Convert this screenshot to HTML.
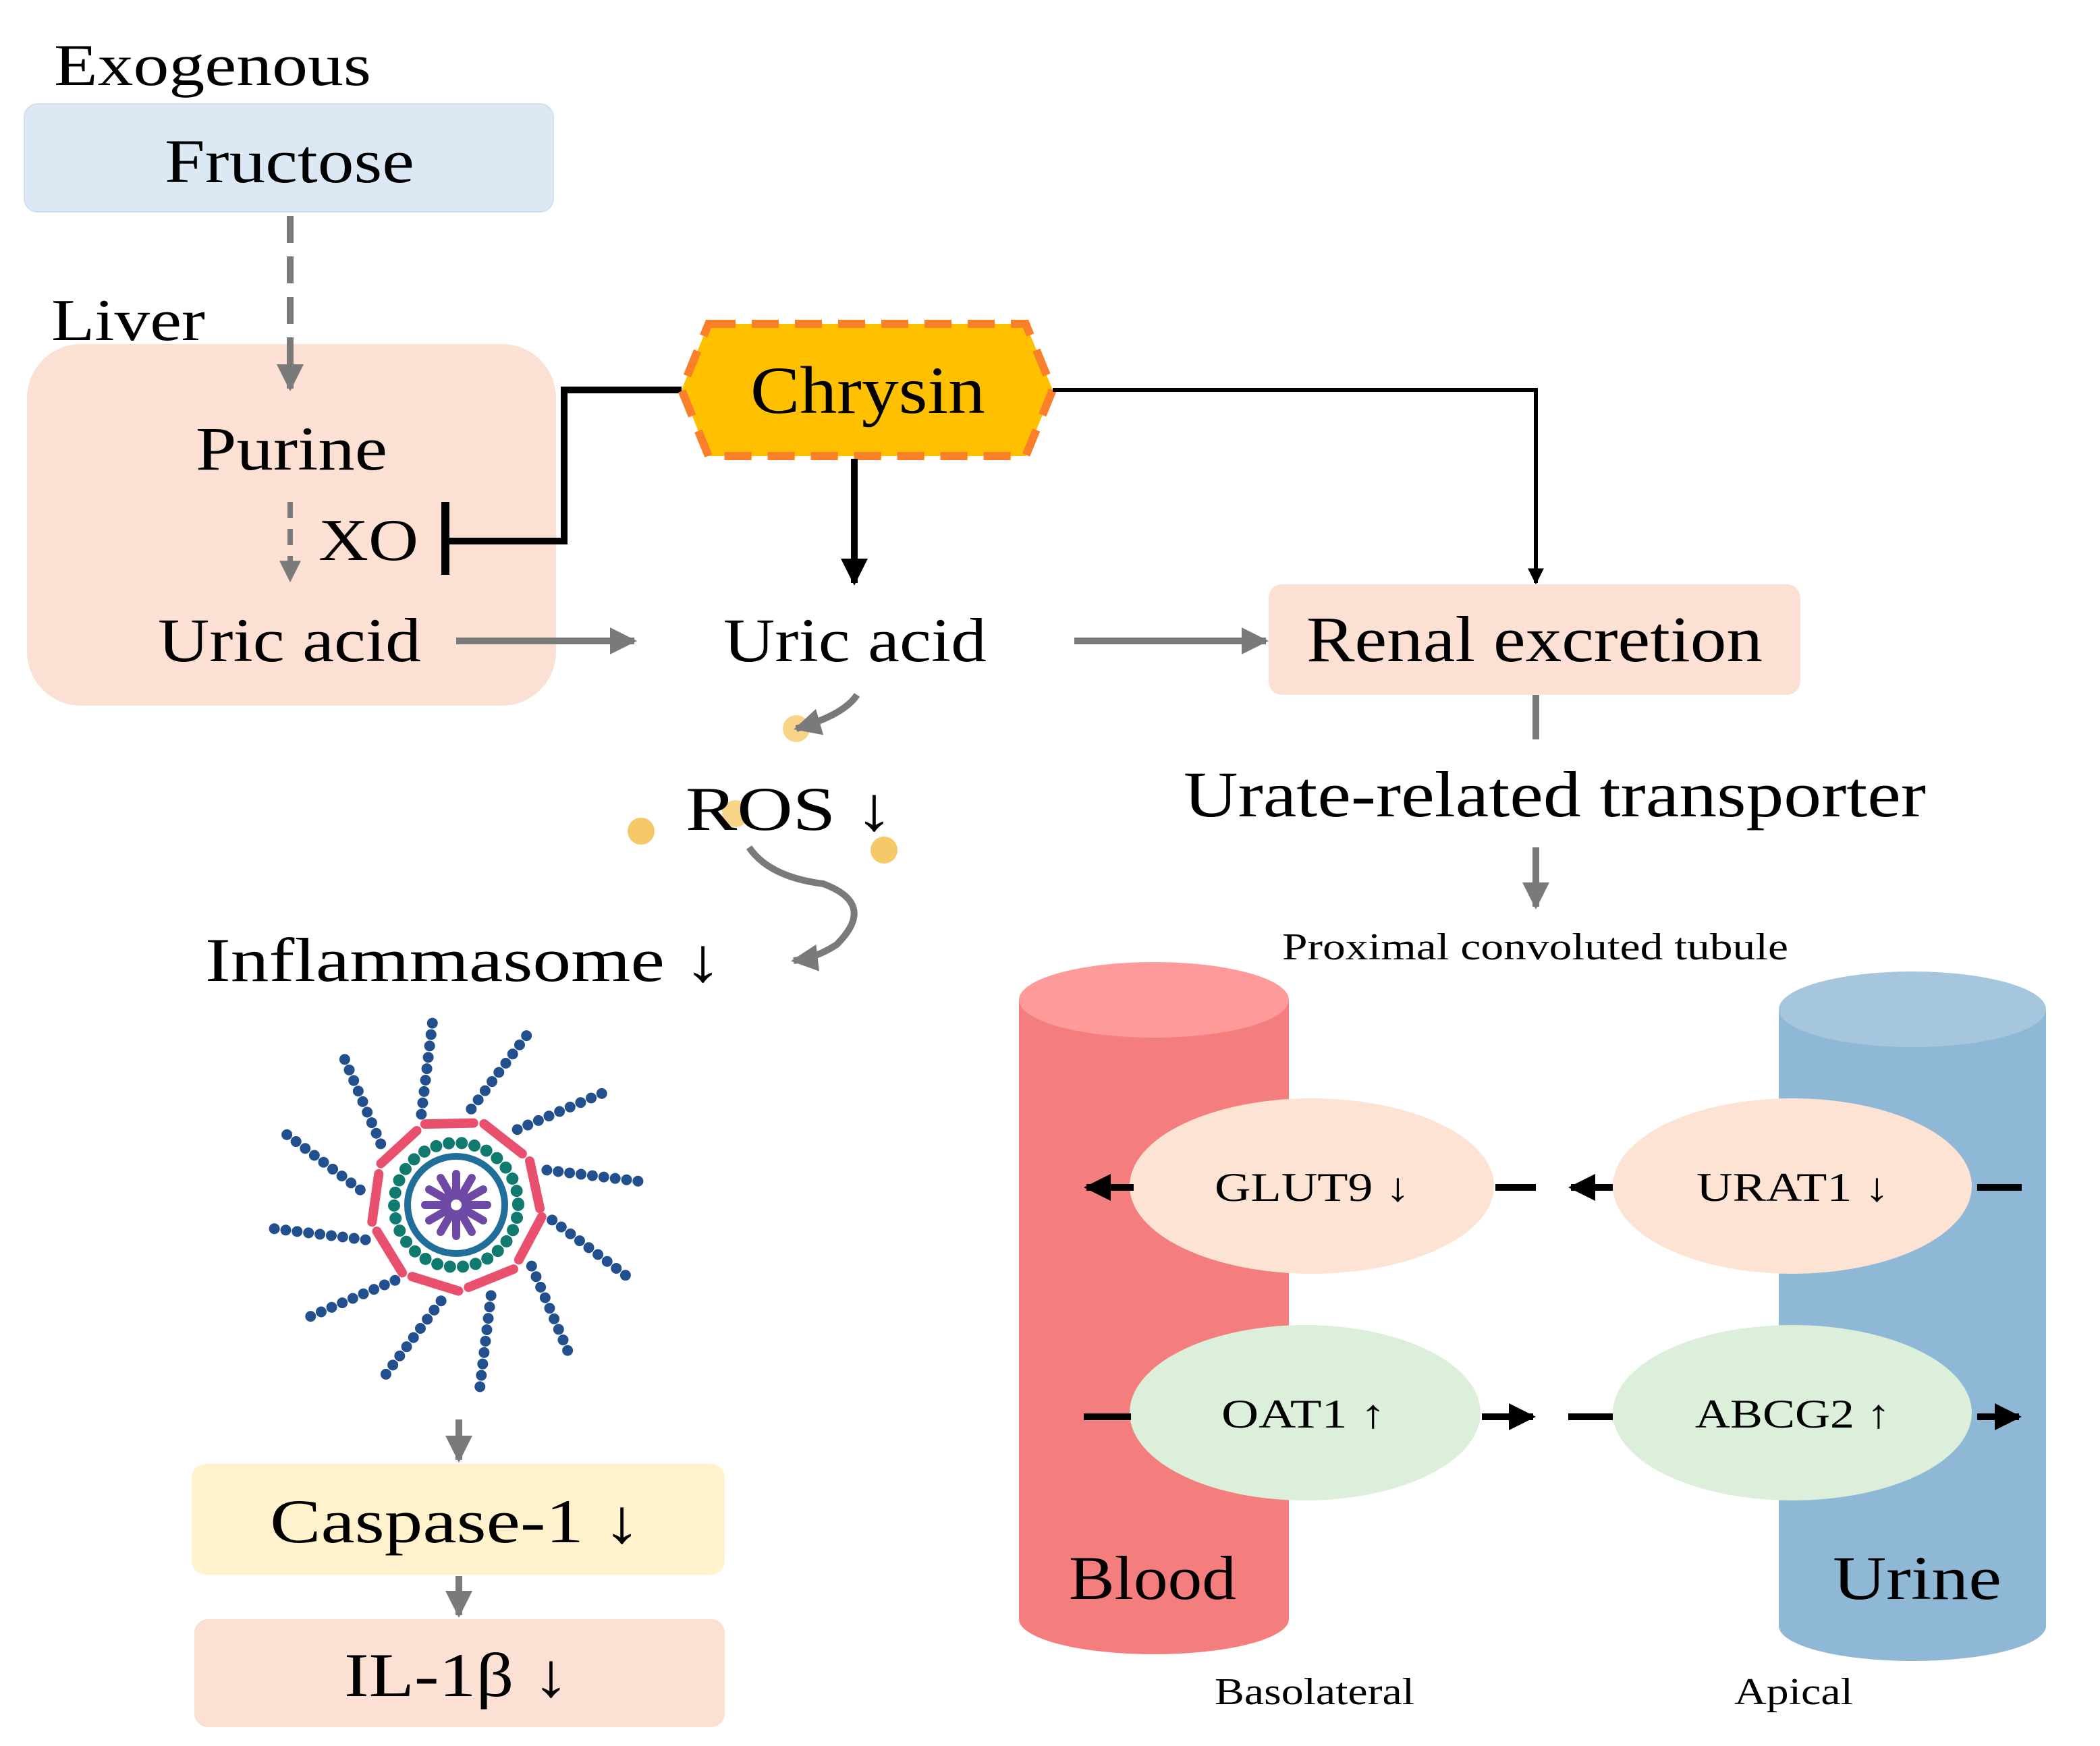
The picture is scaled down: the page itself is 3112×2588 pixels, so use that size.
<!DOCTYPE html>
<html><head><meta charset="utf-8"><style>
html,body{margin:0;padding:0;background:#fff}
svg{display:block}
text{font-family:"Liberation Serif","DejaVu Serif",serif;fill:#000}
</style></head><body>
<svg width="3112" height="2588" viewBox="0 0 1556 1294" xmlns="http://www.w3.org/2000/svg">
<defs>
<marker id="ag" viewBox="0 0 10 10" refX="9" refY="5" markerWidth="4" markerHeight="4" orient="auto"><path d="M0,0L10,5L0,10z" fill="#7a7a7a"/></marker>
<marker id="ab" viewBox="0 0 10 10" refX="9" refY="5" markerWidth="4" markerHeight="4" orient="auto"><path d="M0,0L10,5L0,10z" fill="#000"/></marker>
</defs>
<rect width="1556" height="1294" fill="#fff"/>
<text x="40" y="63" font-size="44" textLength="235" lengthAdjust="spacingAndGlyphs">Exogenous</text>
<rect x="18" y="77" width="392" height="80" rx="10" fill="#dce9f5" stroke="#cfe0f0"/>
<text x="122" y="135" font-size="46" textLength="185" lengthAdjust="spacingAndGlyphs">Fructose</text>
<text x="38" y="252" font-size="44" textLength="114" lengthAdjust="spacingAndGlyphs">Liver</text>
<rect x="20" y="255" width="392" height="268" rx="40" fill="#fbe0d3"/>
<line x1="215" y1="160" x2="215" y2="288" stroke="#7a7a7a" stroke-width="5" stroke-dasharray="20 10" marker-end="url(#ag)"/>
<text x="145" y="348" font-size="46" textLength="142" lengthAdjust="spacingAndGlyphs">Purine</text>
<line x1="215" y1="372" x2="215" y2="430" stroke="#7a7a7a" stroke-width="4" stroke-dasharray="12 8" marker-end="url(#ag)"/>
<text x="236" y="415" font-size="44" textLength="74" lengthAdjust="spacingAndGlyphs">XO</text>
<polyline points="505,289 418,289 418,401 330,401" fill="none" stroke="#000" stroke-width="5"/>
<line x1="330" y1="372" x2="330" y2="426" stroke="#000" stroke-width="6"/>
<text x="117" y="490" font-size="46" textLength="195" lengthAdjust="spacingAndGlyphs">Uric acid</text>
<line x1="338" y1="475" x2="470" y2="475" stroke="#7a7a7a" stroke-width="5" marker-end="url(#ag)"/>
<polygon points="525,240 760,240 780,289 760,338 525,338 505,289" fill="#ffc000" stroke="#f97f2a" stroke-width="6" stroke-dasharray="20 12"/>
<text x="556" y="306" font-size="50" textLength="174" lengthAdjust="spacingAndGlyphs">Chrysin</text>
<line x1="633" y1="340" x2="633" y2="432" stroke="#000" stroke-width="5" marker-end="url(#ab)"/>
<polyline points="780,289 1138,289 1138,432" fill="none" stroke="#000" stroke-width="3" marker-end="url(#ab)"/>
<text x="536" y="490" font-size="46" textLength="195" lengthAdjust="spacingAndGlyphs">Uric acid</text>
<line x1="796" y1="475" x2="938" y2="475" stroke="#7a7a7a" stroke-width="5" marker-end="url(#ag)"/>
<rect x="940" y="433" width="394" height="82" rx="10" fill="#fbe0d3"/>
<text x="968" y="490" font-size="48" textLength="338" lengthAdjust="spacingAndGlyphs">Renal excretion</text>
<line x1="1138" y1="515" x2="1138" y2="548" stroke="#7a7a7a" stroke-width="5"/>
<text x="877" y="605" font-size="48" textLength="550" lengthAdjust="spacingAndGlyphs">Urate-related transporter</text>
<line x1="1138" y1="628" x2="1138" y2="672" stroke="#7a7a7a" stroke-width="5" marker-end="url(#ag)"/>
<text x="950" y="711" font-size="28" textLength="375" lengthAdjust="spacingAndGlyphs">Proximal convoluted tubule</text>
<!-- ROS -->
<circle cx="590" cy="540" r="10" fill="#f5c96a" opacity="0.8"/>
<circle cx="475" cy="616" r="10" fill="#f5c96a"/>
<circle cx="545" cy="603" r="10" fill="#f5c96a" opacity="0.8"/>
<circle cx="655" cy="630" r="10" fill="#f5c96a"/>
<path d="M635,515 Q625,530 590,540" fill="none" stroke="#7a7a7a" stroke-width="5" marker-end="url(#ag)"/>
<text x="508" y="615" font-size="46" textLength="154" lengthAdjust="spacingAndGlyphs">ROS ↓</text>
<path d="M555,628 Q570,650 610,655 Q650,670 620,700 Q605,710 588,712" fill="none" stroke="#7a7a7a" stroke-width="5" marker-end="url(#ag)"/>
<text x="152" y="727" font-size="46" textLength="383" lengthAdjust="spacingAndGlyphs">Inflammasome ↓</text>
<!-- inflammasome -->
<g stroke="#22508f" stroke-width="8" stroke-linecap="round" stroke-dasharray="0 8.5">
<line x1="312.2" y1="825.8" x2="320.9" y2="754"/>
<line x1="349.2" y1="821.9" x2="392.7" y2="764.1"/>
<line x1="383.3" y1="837.1" x2="449.9" y2="808.7"/>
<line x1="405.2" y1="867.2" x2="477" y2="875.9"/>
<line x1="409.1" y1="904.2" x2="466.9" y2="947.7"/>
<line x1="393.9" y1="938.3" x2="422.3" y2="1004.9"/>
<line x1="363.8" y1="960.2" x2="355.1" y2="1032"/>
<line x1="326.8" y1="964.1" x2="283.3" y2="1022"/>
<line x1="292.7" y1="948.9" x2="226.1" y2="977.3"/>
<line x1="270.8" y1="918.8" x2="199" y2="910.1"/>
<line x1="266.9" y1="881.8" x2="209.1" y2="838.3"/>
<line x1="282.1" y1="847.7" x2="253.7" y2="781.1"/>
</g>
<polygon points="402,893 387,934 349,956 306,949 278,915 278,871 306,837 349,830 387,852" fill="none" stroke="#e8506e" stroke-width="7" stroke-linecap="round" stroke-dasharray="36 8" transform="rotate(8 338 893)"/>
<circle cx="338" cy="893" r="46" fill="none" stroke="#107a6e" stroke-width="9" stroke-linecap="round" stroke-dasharray="0 9.6"/>
<circle cx="338" cy="893" r="36" fill="none" stroke="#1f6f9a" stroke-width="5"/>
<g stroke="#6e4aa6" stroke-width="6" stroke-linecap="round">
<line x1="338" y1="870" x2="338" y2="916"/>
<line x1="315" y1="893" x2="361" y2="893"/>
<line x1="326.5" y1="873" x2="349.5" y2="913"/>
<line x1="349.5" y1="873" x2="326.5" y2="913"/>
<line x1="318" y1="881.5" x2="358" y2="904.5"/>
<line x1="358" y1="881.5" x2="318" y2="904.5"/>
</g>
<circle cx="338" cy="893" r="4" fill="#fff"/>
<line x1="340" y1="1052" x2="340" y2="1082" stroke="#7a7a7a" stroke-width="5" stroke-dasharray="12 6" marker-end="url(#ag)"/>
<rect x="142" y="1085" width="395" height="82" rx="10" fill="#fff2cc"/>
<text x="200" y="1143" font-size="46" textLength="275" lengthAdjust="spacingAndGlyphs">Caspase-1 ↓</text>
<line x1="340" y1="1168" x2="340" y2="1197" stroke="#7a7a7a" stroke-width="5" marker-end="url(#ag)"/>
<rect x="144" y="1200" width="393" height="80" rx="10" fill="#fbe0d3"/>
<text x="255" y="1257" font-size="46" textLength="167" lengthAdjust="spacingAndGlyphs">IL-1β ↓</text>
<!-- cylinders -->
<path d="M755,741 L755,1200 A100,26 0 0 0 955,1200 L955,741 Z" fill="#f47e7d"/>
<ellipse cx="855" cy="741" rx="100" ry="28" fill="#fe9a99"/>
<path d="M1318,748 L1318,1205 A99,26 0 0 0 1516,1205 L1516,748 Z" fill="#8fb8d6"/>
<ellipse cx="1417" cy="748" rx="99" ry="28" fill="#a6c6de"/>
<text x="792" y="1185" font-size="46" textLength="124" lengthAdjust="spacingAndGlyphs">Blood</text>
<text x="1358" y="1185" font-size="46" textLength="125" lengthAdjust="spacingAndGlyphs">Urine</text>
<ellipse cx="972" cy="879" rx="135" ry="65" fill="#fde3d4"/>
<ellipse cx="1328" cy="879" rx="133" ry="65" fill="#fde3d4"/>
<ellipse cx="967" cy="1047" rx="130" ry="65" fill="#dcefdb"/>
<ellipse cx="1328" cy="1047" rx="133" ry="65" fill="#dcefdb"/>
<text x="900" y="890" font-size="30" textLength="145" lengthAdjust="spacingAndGlyphs">GLUT9 ↓</text>
<text x="1257" y="890" font-size="30" textLength="143" lengthAdjust="spacingAndGlyphs">URAT1 ↓</text>
<text x="905" y="1058" font-size="30" textLength="122" lengthAdjust="spacingAndGlyphs">OAT1 ↑</text>
<text x="1256" y="1058" font-size="30" textLength="145" lengthAdjust="spacingAndGlyphs">ABCG2 ↑</text>
<g stroke="#000" stroke-width="5">
<line x1="840" y1="880" x2="805" y2="880" marker-end="url(#ab)"/>
<line x1="1108" y1="880" x2="1138" y2="880"/>
<line x1="1195" y1="880" x2="1164" y2="880" marker-end="url(#ab)"/>
<line x1="1465" y1="880" x2="1498" y2="880"/>
<line x1="803" y1="1050" x2="838" y2="1050"/>
<line x1="1098" y1="1050" x2="1136" y2="1050" marker-end="url(#ab)"/>
<line x1="1162" y1="1050" x2="1195" y2="1050"/>
<line x1="1465" y1="1050" x2="1496" y2="1050" marker-end="url(#ab)"/>
</g>
<text x="900" y="1263" font-size="28" textLength="148" lengthAdjust="spacingAndGlyphs">Basolateral</text>
<text x="1285" y="1263" font-size="28" textLength="88" lengthAdjust="spacingAndGlyphs">Apical</text>
</svg>
</body></html>
